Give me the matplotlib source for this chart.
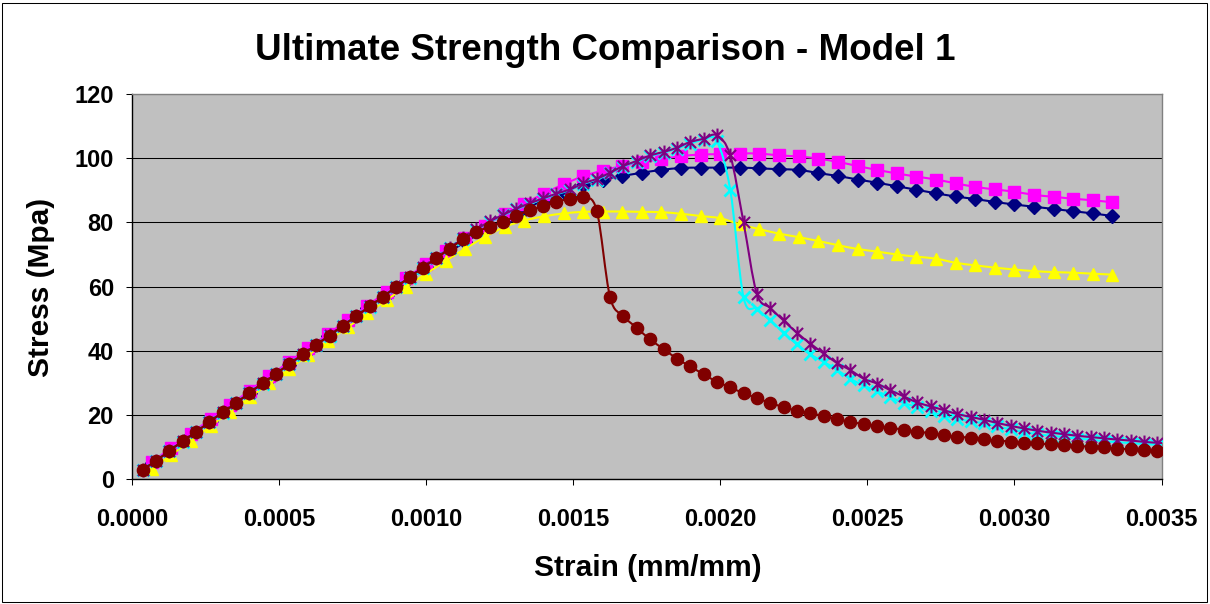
import numpy as np
import matplotlib
matplotlib.use("Agg")
import matplotlib.pyplot as plt
from matplotlib.path import Path
from matplotlib.patches import PathPatch, Rectangle

plt.rcParams['font.family'] = ['Liberation Sans', 'DejaVu Sans']

# strain, in micro-strain
strain_fine_ue = [36, 82, 127, 172, 218, 263, 308, 354, 399, 445,
                  490, 535, 581, 626, 672, 717, 762, 808, 853, 899,
                  944, 989, 1035, 1080, 1126, 1171, 1216, 1262, 1307, 1353,
                  1398, 1443, 1489, 1534, 1580, 1625, 1670, 1716, 1761, 1807,
                  1852, 1897, 1943, 1988, 2034, 2079, 2124, 2170, 2215, 2261,
                  2306, 2351, 2397, 2442, 2488, 2533, 2578, 2624, 2669, 2715,
                  2760, 2805, 2851, 2896, 2942, 2987, 3032, 3078, 3123, 3169,
                  3214, 3259, 3305, 3350, 3396, 3441, 3486, 3532]
strain_coarse_ue = [67, 133, 200, 267, 333, 400, 467, 533, 600, 667,
                    733, 800, 867, 933, 1000, 1067, 1133, 1200, 1267, 1333,
                    1400, 1467, 1533, 1600, 1667, 1733, 1800, 1867, 1933, 2000,
                    2067, 2133, 2200, 2267, 2333, 2400, 2467, 2533, 2600, 2667,
                    2733, 2800, 2867, 2933, 3000, 3067, 3133, 3200, 3267, 3333]

# stress (MPa)
navy_stress = [4.8, 9.2, 13.6, 18.0, 22.4, 26.8, 31.2, 35.6, 40.0, 44.4,
               48.8, 53.2, 57.5, 61.8, 66.0, 70.1, 73.9, 77.5, 80.8, 84.0,
               86.9, 89.5, 91.8, 93.4, 94.5, 95.5, 96.4, 97.0, 97.1, 97.1,
               97.1, 96.9, 96.6, 96.4, 95.4, 94.5, 93.4, 92.4, 91.3, 90.2,
               89.1, 88.1, 87.3, 86.4, 85.6, 84.9, 84.2, 83.5, 82.8, 82.0]
magenta_stress = [5.2, 9.6, 14.1, 18.6, 23.0, 27.5, 32.0, 36.4, 40.8, 45.2,
                  49.6, 54.0, 58.4, 62.7, 67.0, 71.2, 75.2, 79.0, 82.5, 85.8,
                  89.0, 91.9, 94.4, 96.2, 97.6, 98.8, 99.8, 100.7, 101.2, 101.3,
                  101.5, 101.5, 100.9, 100.6, 99.9, 98.9, 97.6, 96.4, 95.3, 94.3,
                  93.4, 92.2, 91.1, 90.3, 89.6, 88.6, 88.0, 87.4, 86.9, 86.3]
yellow_stress = [3.0, 7.4, 11.9, 16.4, 20.9, 25.4, 29.8, 34.2, 38.6, 43.0,
                 47.3, 51.6, 55.9, 60.0, 64.0, 68.0, 71.8, 75.5, 78.6, 80.6,
                 81.9, 82.8, 83.3, 83.4, 83.4, 83.3, 83.2, 82.7, 82.0, 81.3,
                 79.4, 77.9, 76.5, 75.4, 74.2, 72.9, 71.7, 70.9, 70.0, 69.3,
                 68.7, 67.4, 66.6, 65.9, 65.3, 64.8, 64.5, 64.3, 64.0, 63.7]
cyan_stress = [2.7, 5.5, 8.6, 11.6, 14.5, 17.6, 20.6, 23.5, 26.7, 29.7,
               32.7, 35.7, 38.7, 41.7, 44.7, 47.7, 50.7, 53.7, 56.7, 59.8,
               62.8, 65.9, 68.9, 71.9, 74.9, 77.7, 80.1, 82.2, 84.1, 85.8,
               87.3, 88.8, 90.1, 92.0, 93.4, 95.3, 97.4, 99.0, 100.6, 101.8,
               103.0, 104.6, 105.8, 105.4, 90.1, 56.6, 53.0, 49.4, 45.6, 41.9,
               38.8, 36.5, 34.0, 31.2, 29.1, 27.3, 25.5, 23.6, 22.4, 21.0,
               19.6, 18.7, 17.9, 17.3, 16.3, 15.4, 14.6, 13.9, 13.4, 13.0,
               12.5, 12.2, 11.7, 11.4, 11.1, 10.8, 10.6, 10.4]
purple_stress = [2.8, 5.6, 8.7, 11.7, 14.6, 17.7, 20.7, 23.6, 26.8, 29.8,
                 32.8, 35.8, 38.8, 41.8, 44.8, 47.8, 50.8, 53.8, 56.8, 59.9,
                 62.9, 66.0, 69.0, 72.0, 75.0, 77.8, 80.3, 82.4, 84.3, 86.0,
                 87.5, 89.0, 90.3, 92.2, 93.6, 95.5, 97.6, 99.2, 100.9, 102.0,
                 103.3, 105.1, 106.1, 107.2, 100.9, 80.0, 57.8, 53.3, 49.4, 45.5,
                 42.2, 39.1, 36.1, 33.9, 31.2, 29.7, 27.6, 25.7, 23.8, 22.6,
                 21.4, 20.2, 19.3, 18.4, 17.4, 16.5, 15.7, 15.0, 14.4, 13.9,
                 13.4, 13.0, 12.6, 12.2, 11.9, 11.5, 11.2, 11.0]
maroon_stress = [2.8, 5.6, 8.7, 11.7, 14.6, 17.7, 20.7, 23.6, 26.8, 29.8,
                 32.8, 35.8, 38.8, 41.8, 44.7, 47.8, 50.7, 53.8, 56.8, 59.9,
                 62.9, 65.9, 68.8, 71.8, 74.7, 77.1, 78.6, 80.2, 82.0, 83.9,
                 85.0, 86.4, 87.4, 87.9, 83.7, 56.8, 50.8, 47.1, 43.5, 40.5,
                 37.5, 35.1, 32.6, 30.3, 28.5, 26.7, 25.2, 23.6, 22.4, 21.2,
                 20.5, 19.5, 18.7, 17.7, 17.1, 16.5, 15.9, 15.3, 14.7, 14.2,
                 13.6, 13.1, 12.8, 12.3, 11.9, 11.6, 11.2, 11.0, 10.7, 10.4,
                 10.2, 10.0, 9.8, 9.4, 9.2, 8.9, 8.8, 8.6]

x_ticks = [0.0, 0.0005, 0.0010, 0.0015, 0.0020, 0.0025, 0.0030, 0.0035]
x_labels = ['0.0000', '0.0005', '0.0010', '0.0015', '0.0020', '0.0025', '0.0030', '0.0035']
y_ticks = [0, 20, 40, 60, 80, 100, 120]

# excel-like star marker: vertical bar plus an X
star = Path([(0, -1), (0, 1), (-0.8, -0.8), (0.8, 0.8), (-0.8, 0.8), (0.8, -0.8)],
            [Path.MOVETO, Path.LINETO] * 3)


def smooth_path(x, y):
    # bezier through the points, like excel's smoothed line
    pts = np.column_stack([x, y])
    n = len(pts)
    verts = [pts[0]]
    codes = [Path.MOVETO]
    for i in range(n - 1):
        p0 = pts[i - 1] if i > 0 else pts[i]
        p1 = pts[i]
        p2 = pts[i + 1]
        p3 = pts[i + 2] if i + 2 < n else pts[i + 1]
        verts += [p1 + (p2 - p0) / 6, p2 - (p3 - p1) / 6, p2]
        codes += [Path.CURVE4] * 3
    return Path(verts, codes)


fine = np.array(strain_fine_ue) * 1e-6
coarse = np.array(strain_coarse_ue) * 1e-6

series = [
    (coarse, navy_stress, '#000080', 'D', 6.8, 1.0),
    (coarse, magenta_stress, '#FF00FF', 's', 8.2, 1.0),
    (coarse, yellow_stress, '#FFFF00', '^', 9.2, 1.0),
    (fine, cyan_stress, '#00FFFF', 'x', 9.0, 2.0),
    (fine, purple_stress, '#800080', star, 10.0, 1.5),
    (fine, maroon_stress, '#800000', 'o', 8.8, 1.0),
]

fig = plt.figure(figsize=(12.1, 6.04), dpi=100)
ax = fig.add_axes([132 / 1210, 1 - 478.7 / 604, (1161.5 - 132) / 1210, (478.7 - 94.3) / 604])
ax.set_facecolor('#C0C0C0')

for i, (xs, ys, col, mk, ms, mew) in enumerate(series):
    z = 3 + i
    ax.add_patch(PathPatch(smooth_path(xs, np.array(ys)), facecolor='none',
                           edgecolor=col, lw=1.5, zorder=z, joinstyle='round'))
    ax.plot(xs, ys, linestyle='none', marker=mk, ms=ms, color=col,
            mec=col, mfc=col, mew=mew, zorder=z + 0.5)

ax.set_xlim(0, 0.0035)
ax.set_ylim(0, 120)
ax.set_xticks(x_ticks)
ax.set_xticklabels(x_labels, fontweight='bold')
ax.set_yticks(y_ticks)
ax.set_yticklabels([str(v) for v in y_ticks], fontweight='bold')
ax.tick_params(direction='out', length=4.5, width=0.75, labelsize=17, colors='black')
ax.tick_params(axis='x', pad=16.5)
ax.tick_params(axis='y', pad=8.5)
ax.grid(axis='y', color='black', lw=0.75)
ax.set_axisbelow(True)
for s in ['left', 'bottom']:
    ax.spines[s].set_color('black')
    ax.spines[s].set_linewidth(1.0)
for s in ['top', 'right']:
    ax.spines[s].set_color('#808080')
    ax.spines[s].set_linewidth(1.0)

fig.text(0.5, 1 - 60 / 604, 'Ultimate Strength Comparison - Model 1',
         ha='center', va='baseline', fontsize=26.5, fontweight='bold')
fig.text(648 / 1210, 1 - 576 / 604, 'Strain (mm/mm)',
         ha='center', va='baseline', fontsize=21.5, fontweight='bold')
fig.text(41 / 1210, 1 - 287.5 / 604, 'Stress (Mpa)', rotation=90,
         ha='center', va='center', fontsize=21.5, fontweight='bold')

fig.add_artist(Rectangle((1.5 / 1210, 2 / 604), 1205 / 1210, 599 / 604,
                         transform=fig.transFigure, fill=False, ec='black', lw=0.75))

fig.savefig('out.png', dpi=100)
